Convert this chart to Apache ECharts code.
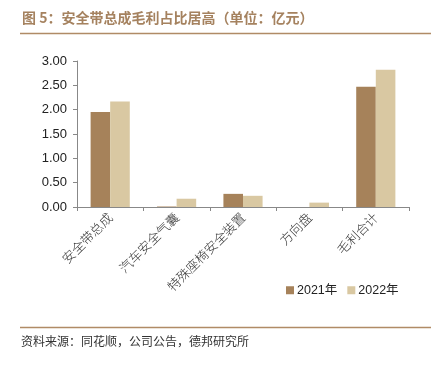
<!DOCTYPE html>
<html><head><meta charset="utf-8">
<script src="https://cdn.jsdelivr.net/npm/echarts@6/dist/echarts.min.js"></script>
<style>html,body{margin:0;padding:0;background:#fff}#c{width:440px;height:365px}</style>
</head><body><div id="c"></div>
<script>
const categories = ['安全带总成','汽车安全气囊','特殊座椅安全装置','方向盘','毛利合计'];
const values2021 = [1.95, 0.01, 0.27, 0.00, 2.47];
const values2022 = [2.17, 0.17, 0.23, 0.09, 2.82];
const yTicks = [0, 0.5, 1, 1.5, 2, 2.5, 3];
const seriesNames = ['2021年','2022年'];
const titleText = '图 5：安全带总成毛利占比居高（单位：亿元）';
const sourceText = '资料来源：同花顺，公司公告，德邦研究所';

const chart = echarts.init(document.getElementById('c'));
const cjk = '"Noto Sans CJK SC", sans-serif';
chart.setOption({
  animation: false,
  textStyle: { fontFamily: 'Liberation Sans, Arial, sans-serif' },
  graphic: [
    { type: 'text', left: 22, top: 11, style: { text: titleText, fill: '#A5825F', font: 'bold 14px ' + cjk } },
    { type: 'line', shape: { x1: 20, y1: 33.5, x2: 431, y2: 33.5 }, style: { stroke: '#B08B66', lineWidth: 1.5 } },
    { type: 'line', shape: { x1: 20, y1: 327.5, x2: 431, y2: 327.5 }, style: { stroke: '#B08B66', lineWidth: 1.5 } },
    { type: 'text', left: 21, top: 335, style: { text: sourceText, fill: '#333', font: '12px ' + cjk } }
  ],
  legend: {
    data: seriesNames, left: 281, top: 279, itemWidth: 8, itemHeight: 8, itemGap: 10,
    icon: 'rect', textStyle: { fontSize: 12.5, color: '#222', padding: [0,0,0,-2], fontFamily: 'Liberation Sans, "Noto Sans CJK SC", sans-serif' }
  },
  grid: { left: 77, right: 31, top: 61, bottom: 158, containLabel: false },
  xAxis: {
    type: 'category', data: categories,
    axisLine: { lineStyle: { color: '#888' } },
    axisTick: { show: true, alignWithLabel: false, length: 4, lineStyle: { color: '#888' } },
    axisLabel: { rotate: 45, fontSize: 13, color: '#333', fontFamily: cjk, fontWeight: 300, margin: 8, interval: 0 }
  },
  yAxis: {
    type: 'value', min: 0, max: 3, interval: 0.5,
    axisLine: { show: true, lineStyle: { color: '#888' } },
    axisTick: { show: true, length: 4, lineStyle: { color: '#888' } },
    splitLine: { show: false },
    axisLabel: { fontSize: 13, color: '#222', margin: 10, formatter: v => v.toFixed(2) }
  },
  series: [
    { name: seriesNames[0], type: 'bar', data: values2021, barGap: '0%', barCategoryGap: '41%', itemStyle: { color: '#A6825A' } },
    { name: seriesNames[1], type: 'bar', data: values2022, itemStyle: { color: '#D9C8A2' } }
  ]
});
</script></body></html>
